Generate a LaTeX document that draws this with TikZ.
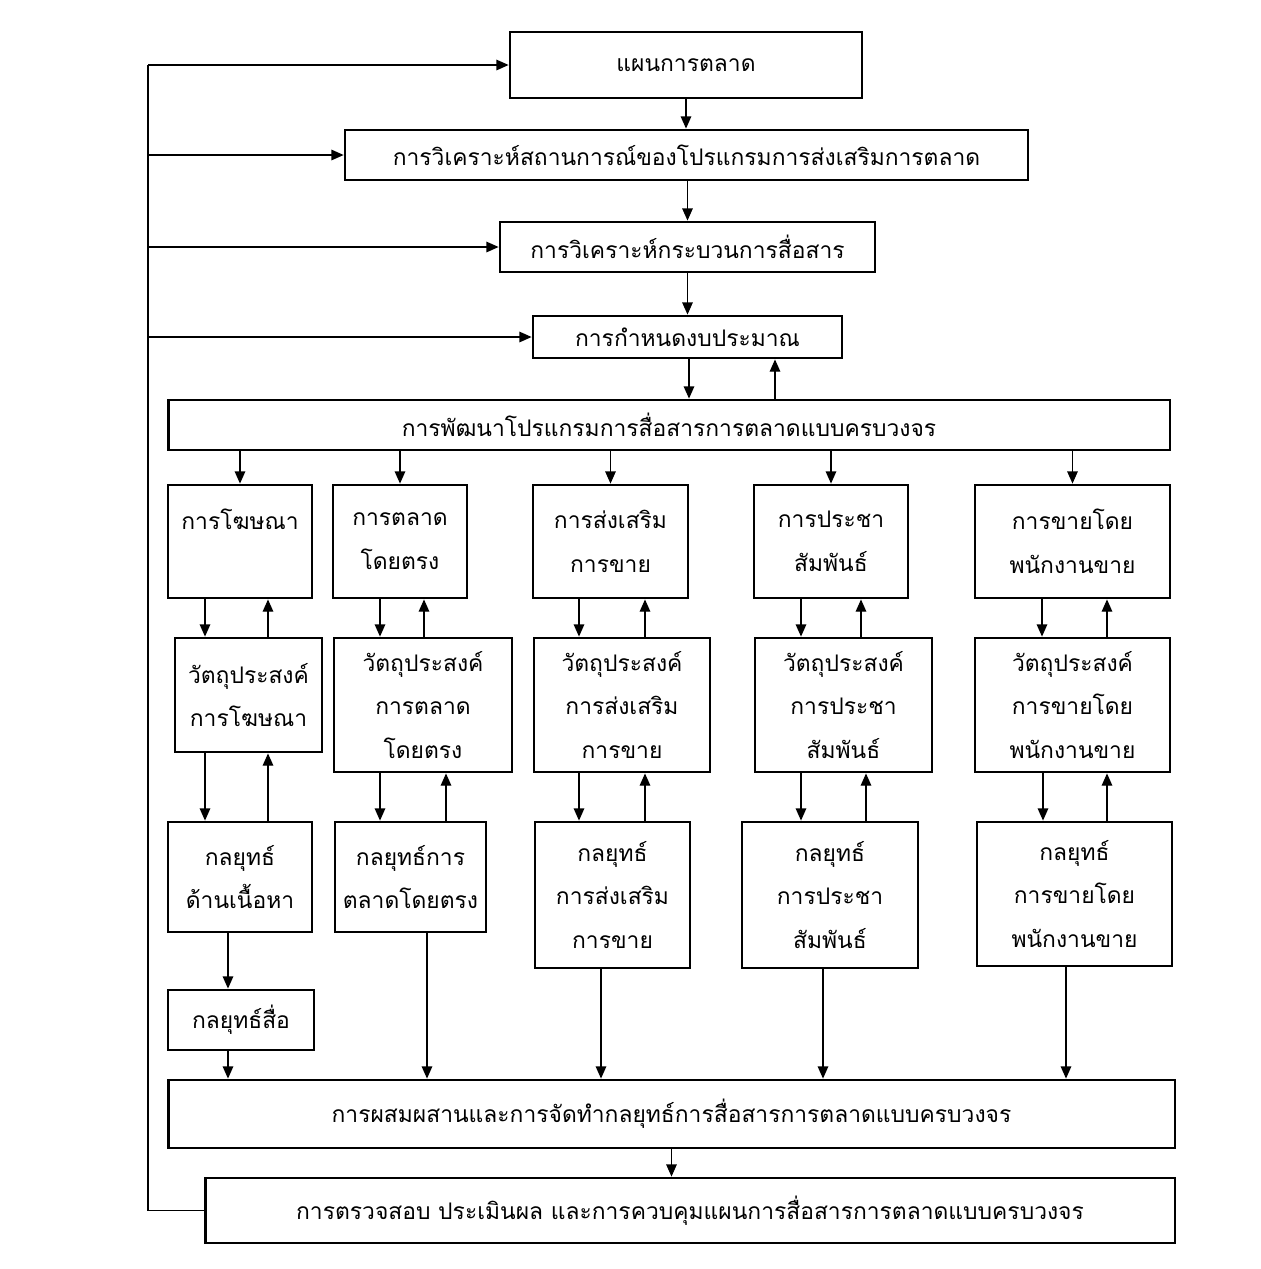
\documentclass[tikz,border=0pt]{standalone}
\usepackage{fontspec}
\newfontfamily\thaifont[Script=Thai]{Loma}
\usetikzlibrary{arrows.meta,positioning}
\tikzset{
  stepbox/.style={
    rectangle,
    draw=black,
    line width=1.6pt,
    align=center,
    inner sep=1pt,
    font=\thaifont\fontsize{13}{25}\selectfont
  },
  flow/.style={-{Triangle[length=7pt,width=6pt]}, line width=0.8pt, black},
  loop/.style={line width=0.8pt, black}
}
\begin{document}
\begin{tikzpicture}[x=0.02cm, y=-0.02cm]
\useasboundingbox (0,0) rectangle (1261,1269);
% top chain
\node[stepbox, minimum width=7.04cm, minimum height=1.32cm] (plan) at (686,65) {แผนการตลาด};
\node[stepbox, minimum width=13.66cm, minimum height=1.0cm] (situ) at (686.5,155) {การวิเคราะห์สถานการณ์ของโปรแกรมการส่งเสริมการตลาด};
\node[stepbox, minimum width=7.5cm, minimum height=1.0cm] (comm) at (687.5,247) {การวิเคราะห์กระบวนการสื่อสาร};
\node[stepbox, minimum width=6.18cm, minimum height=0.84cm] (budget) at (687.5,337) {การกำหนดงบประมาณ};
\node[stepbox, minimum width=20.04cm, minimum height=1.0cm] (devel) at (669,425) {การพัฒนาโปรแกรมการสื่อสารการตลาดแบบครบวงจร};

% tools
\node[stepbox, minimum width=2.88cm, minimum height=2.26cm] (adv) at (240,541.5) {การโฆษณา\\ \mbox{}};
\node[stepbox, minimum width=2.68cm, minimum height=2.26cm] (dm) at (400,541.5) {การตลาด\\โดยตรง};
\node[stepbox, minimum width=3.1cm, minimum height=2.26cm] (sp) at (610.5,541.5) {การส่งเสริม\\การขาย};
\node[stepbox, minimum width=3.08cm, minimum height=2.26cm] (pr) at (831,541.5) {การประชา\\สัมพันธ์};
\node[stepbox, minimum width=3.9cm, minimum height=2.26cm] (ps) at (1072.5,541.5) {การขายโดย\\พนักงานขาย};

% objectives
\node[stepbox, minimum width=2.94cm, minimum height=2.28cm] (advobj) at (248.5,695) {วัตถุประสงค์\\การโฆษณา};
\node[stepbox, minimum width=3.56cm, minimum height=2.68cm] (dmobj) at (423,705) {วัตถุประสงค์\\การตลาด\\โดยตรง};
\node[stepbox, minimum width=3.52cm, minimum height=2.68cm] (spobj) at (622,705) {วัตถุประสงค์\\การส่งเสริม\\การขาย};
\node[stepbox, minimum width=3.54cm, minimum height=2.68cm] (probj) at (843.5,705) {วัตถุประสงค์\\การประชา\\สัมพันธ์};
\node[stepbox, minimum width=3.9cm, minimum height=2.68cm] (psobj) at (1072.5,705) {วัตถุประสงค์\\การขายโดย\\พนักงานขาย};

% strategies
\node[stepbox, minimum width=2.88cm, minimum height=2.2cm] (advstr) at (240,877) {กลยุทธ์\\ด้านเนื้อหา};
\node[stepbox, minimum width=3.02cm, minimum height=2.2cm] (dmstr) at (410.5,877) {กลยุทธ์การ\\ตลาดโดยตรง};
\node[stepbox, minimum width=3.1cm, minimum height=2.92cm] (spstr) at (612.5,895) {กลยุทธ์\\การส่งเสริม\\การขาย};
\node[stepbox, minimum width=3.52cm, minimum height=2.92cm] (prstr) at (830,895) {กลยุทธ์\\การประชา\\สัมพันธ์};
\node[stepbox, minimum width=3.9cm, minimum height=2.88cm] (psstr) at (1074.5,894) {กลยุทธ์\\การขายโดย\\พนักงานขาย};
\node[stepbox, minimum width=2.92cm, minimum height=1.2cm] (media) at (241,1020) {กลยุทธ์สื่อ};

% bottom
\node[stepbox, minimum width=20.14cm, minimum height=1.36cm] (integ) at (671.5,1114) {การผสมผสานและการจัดทำกลยุทธ์การสื่อสารการตลาดแบบครบวงจร};
\node[stepbox, minimum width=19.4cm, minimum height=1.3cm] (evalbox) at (690,1210.5) {การตรวจสอบ ประเมินผล และการควบคุมแผนการสื่อสารการตลาดแบบครบวงจร};

% main chain
\draw[flow] (plan.south) -- (situ.north -| plan.south);
\draw[flow] (situ.south -| comm.north) -- (comm.north);
\draw[flow] (comm.south) -- (budget.north);
\coordinate (bd) at (689,0);
\coordinate (bu) at (775,0);
\draw[flow] (budget.south -| bd) -- (devel.north -| bd);
\draw[flow] (devel.north -| bu) -- (budget.south -| bu);

% devel to tools
\foreach \t in {adv,dm,sp,pr,ps}
  \draw[flow] (devel.south -| \t.north) -- (\t.north);

% tools <-> objectives <-> strategies
\foreach \t/\o/\d/\u in {adv/advobj/205/268, dm/dmobj/380/424, sp/spobj/579/645, pr/probj/801/861, ps/psobj/1042/1107} {
  \coordinate (dn) at (\d,0);
  \coordinate (up) at (\u,0);
  \draw[flow] (\t.south -| dn) -- (\o.north -| dn);
  \draw[flow] (\o.north -| up) -- (\t.south -| up);
}
\foreach \o/\s/\d/\u in {advobj/advstr/205/268, dmobj/dmstr/380/446, spobj/spstr/579/645, probj/prstr/801/866, psobj/psstr/1043/1107} {
  \coordinate (dn) at (\d,0);
  \coordinate (up) at (\u,0);
  \draw[flow] (\o.south -| dn) -- (\s.north -| dn);
  \draw[flow] (\s.north -| up) -- (\o.south -| up);
}

% strategies to integration
\coordinate (mx) at (228,0);
\draw[flow] (advstr.south -| mx) -- (media.north -| mx);
\draw[flow] (media.south -| mx) -- (integ.north -| mx);
\foreach \s/\x in {dmstr/427, spstr/601, prstr/823, psstr/1066} {
  \coordinate (sx) at (\x,0);
  \draw[flow] (\s.south -| sx) -- (integ.north -| sx);
}
\draw[flow] (integ.south) -- (evalbox.north -| integ.south);

% feedback
\coordinate (fb) at (148,0);
\draw[loop] (evalbox.west) -- (evalbox.west -| fb) -- (fb |- plan.west);
\foreach \n in {plan,situ,comm,budget}
  \draw[flow] (fb |- \n.west) -- (\n.west);
\end{tikzpicture}
\end{document}
